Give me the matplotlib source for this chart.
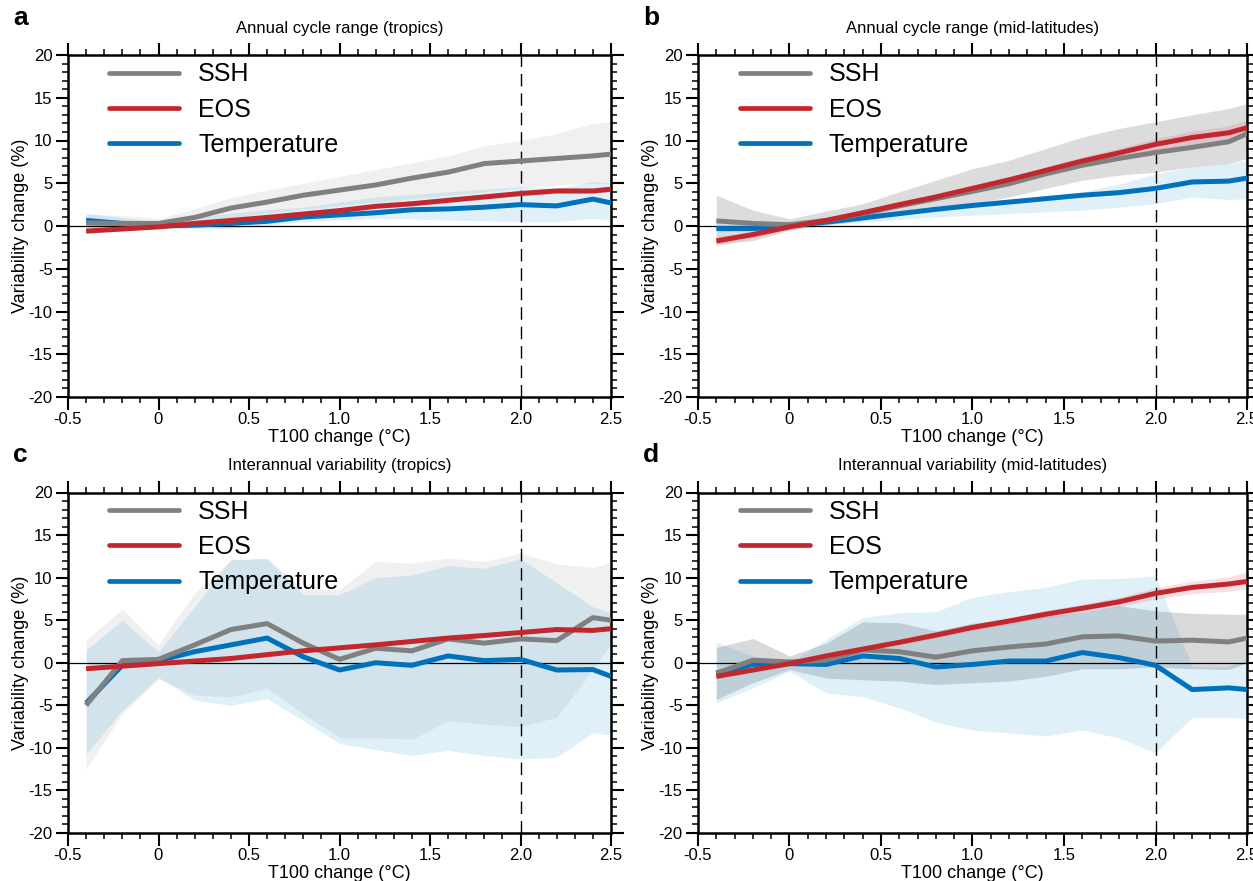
import numpy as np
import matplotlib
matplotlib.use("Agg")
import matplotlib.pyplot as plt
from matplotlib.ticker import MultipleLocator

plt.rcParams['font.family'] = ['Liberation Sans', 'DejaVu Sans']
plt.rcParams['axes.unicode_minus'] = False

# x positions (T100 change, degC)
x = [-0.4, -0.2, 0.0, 0.2, 0.4, 0.6, 0.8, 1.0, 1.2, 1.4, 1.6, 1.8, 2.0, 2.2, 2.4, 2.5]

# ---- Panel a: Annual cycle range (tropics)
a_ssh = [0.35, 0.3, 0.3, 1.0, 2.1, 2.8, 3.6, 4.2, 4.8, 5.6, 6.3, 7.3, 7.6, 7.9, 8.2, 8.4]
a_ssh_lo = [-0.5, -0.4, -0.3, 0.4, 1.0, 1.5, 2.0, 2.4, 2.8, 3.2, 3.6, 4.0, 4.5, 4.8, 5.0, 5.0]
a_ssh_hi = [1.4, 1.2, 0.9, 2.0, 3.3, 4.2, 5.0, 5.8, 6.6, 7.4, 8.2, 9.4, 10.0, 10.8, 12.0, 12.2]
a_eos = [-0.6, -0.35, -0.1, 0.3, 0.65, 1.0, 1.4, 1.8, 2.3, 2.6, 3.0, 3.4, 3.8, 4.1, 4.1, 4.3]
a_eos_lo = [-0.8, -0.55, -0.3, 0.1, 0.45, 0.8, 1.2, 1.6, 2.05, 2.35, 2.7, 3.1, 3.5, 3.8, 3.8, 4.0]
a_eos_hi = [-0.4, -0.15, 0.1, 0.5, 0.85, 1.2, 1.6, 2.0, 2.55, 2.85, 3.3, 3.7, 4.1, 4.4, 4.4, 4.6]
a_tmp = [0.65, 0.3, 0.0, 0.1, 0.3, 0.55, 1.05, 1.3, 1.55, 1.9, 2.0, 2.2, 2.5, 2.35, 3.15, 2.7]
a_tmp_lo = [-0.7, -0.5, -0.3, -0.3, -0.3, 0.1, 0.5, 0.7, 0.9, 0.8, 0.7, 0.6, 0.5, 0.5, 0.9, 0.7]
a_tmp_hi = [1.45, 1.0, 0.5, 1.0, 1.5, 1.9, 2.2, 2.8, 3.4, 3.7, 4.0, 4.3, 4.6, 4.4, 5.2, 5.0]

# ---- Panel b: Annual cycle range (mid-latitudes)
b_ssh = [0.6, 0.3, 0.15, 0.65, 1.45, 2.35, 3.2, 4.05, 4.95, 6.1, 7.1, 7.9, 8.6, 9.2, 9.85, 10.8]
b_ssh_lo = [-2.1, -1.7, -0.5, 0.1, 0.65, 1.25, 1.85, 2.6, 3.4, 4.4, 5.35, 5.95, 6.3, 6.9, 7.3, 7.9]
b_ssh_hi = [3.6, 1.85, 0.85, 1.75, 2.6, 4.0, 5.35, 6.7, 7.7, 9.05, 10.4, 11.4, 12.2, 13.0, 13.75, 14.3]
b_eos = [-1.75, -1.0, -0.1, 0.65, 1.55, 2.5, 3.4, 4.4, 5.4, 6.5, 7.6, 8.55, 9.55, 10.35, 10.9, 11.5]
b_eos_lo = [-2.3, -1.4, -0.4, 0.4, 1.3, 2.2, 3.1, 4.1, 5.0, 6.1, 7.1, 8.0, 8.9, 9.6, 10.1, 10.6]
b_eos_hi = [-1.2, -0.6, 0.2, 0.9, 1.8, 2.8, 3.7, 4.7, 5.8, 6.9, 8.1, 9.1, 10.2, 11.1, 11.7, 12.4]
b_tmp = [-0.3, -0.3, 0.0, 0.45, 0.95, 1.45, 1.95, 2.4, 2.8, 3.2, 3.6, 3.9, 4.4, 5.15, 5.25, 5.6]
b_tmp_lo = [-0.7, -0.5, -0.1, 0.2, 0.45, 0.75, 1.05, 1.25, 1.45, 1.65, 1.85, 2.2, 2.6, 3.4, 3.1, 3.2]
b_tmp_hi = [0.1, 0.1, 0.1, 0.7, 1.25, 1.7, 2.2, 2.6, 3.0, 3.5, 4.0, 4.9, 6.1, 6.9, 7.3, 7.7]

# ---- Panel c: Interannual variability (tropics)
c_ssh = [-5.0, 0.25, 0.4, 2.1, 3.9, 4.6, 2.3, 0.4, 1.7, 1.4, 2.8, 2.3, 2.8, 2.6, 5.3, 5.0]
c_ssh_lo = [-12.5, -6.0, -1.9, -3.8, -4.0, -3.0, -6.0, -8.8, -8.8, -9.0, -6.8, -7.2, -7.5, -6.4, -0.8, 2.3]
c_ssh_hi = [2.7, 6.3, 2.1, 8.2, 12.1, 12.3, 8.6, 8.6, 11.9, 11.7, 12.3, 11.9, 12.9, 11.6, 11.2, 11.8]
c_eos = [-0.7, -0.4, -0.1, 0.2, 0.5, 0.95, 1.4, 1.75, 2.1, 2.5, 2.9, 3.2, 3.55, 3.9, 3.8, 4.0]
c_eos_lo = [-0.9, -0.6, -0.3, 0.0, 0.3, 0.75, 1.2, 1.55, 1.9, 2.3, 2.7, 3.0, 3.35, 3.7, 3.6, 3.8]
c_eos_hi = [-0.5, -0.2, 0.1, 0.4, 0.7, 1.15, 1.6, 1.95, 2.3, 2.7, 3.1, 3.4, 3.75, 4.1, 4.0, 4.2]
c_tmp = [-4.75, -0.3, 0.25, 1.3, 2.1, 2.9, 0.7, -0.85, 0.0, -0.3, 0.8, 0.25, 0.4, -0.85, -0.8, -1.6]
c_tmp_lo = [-10.7, -5.6, -1.7, -4.4, -5.0, -4.2, -6.8, -9.5, -10.2, -10.9, -10.3, -10.9, -11.3, -11.1, -8.2, -8.5]
c_tmp_hi = [1.5, 5.0, 1.3, 6.6, 12.1, 12.2, 8.0, 8.0, 10.0, 10.3, 11.4, 11.1, 12.2, 9.4, 6.6, 5.8]

# ---- Panel d: Interannual variability (mid-latitudes)
d_ssh = [-1.25, 0.3, 0.1, 0.3, 1.5, 1.3, 0.65, 1.4, 1.85, 2.2, 3.05, 3.15, 2.55, 2.65, 2.45, 2.9]
d_ssh_lo = [-4.3, -2.35, -0.8, -1.8, -2.0, -2.15, -2.55, -2.35, -2.15, -1.6, -0.7, -0.7, -0.5, -0.7, -0.8, 0.0]
d_ssh_hi = [1.8, 2.85, 0.8, 2.3, 4.8, 4.7, 3.75, 4.65, 5.1, 5.5, 5.9, 6.7, 6.1, 5.8, 5.7, 5.7]
d_eos = [-1.6, -0.85, -0.1, 0.8, 1.6, 2.4, 3.25, 4.15, 4.9, 5.7, 6.4, 7.15, 8.15, 8.85, 9.25, 9.55]
d_eos_lo = [-1.9, -1.15, -0.4, 0.5, 1.3, 2.1, 2.9, 3.75, 4.5, 5.25, 5.9, 6.6, 7.5, 8.1, 8.4, 8.7]
d_eos_hi = [-1.3, -0.55, 0.2, 1.1, 1.9, 2.7, 3.6, 4.55, 5.3, 6.15, 6.9, 7.7, 8.8, 9.6, 10.1, 10.7]
d_tmp = [-1.2, -0.2, -0.1, -0.2, 0.8, 0.5, -0.5, -0.2, 0.2, 0.2, 1.2, 0.6, -0.3, -3.15, -2.95, -3.15]
d_tmp_lo = [-4.7, -2.95, -1.0, -3.55, -4.0, -5.3, -7.0, -7.9, -8.25, -8.6, -7.9, -8.85, -10.6, -6.4, -6.4, -6.6]
d_tmp_hi = [2.4, 0.8, 0.0, 2.75, 5.3, 5.9, 6.0, 7.7, 8.35, 8.85, 9.85, 9.9, 10.2, -0.4, -0.4, 0.4]

titles = ["Annual cycle range (tropics)", "Annual cycle range (mid-latitudes)",
          "Interannual variability (tropics)", "Interannual variability (mid-latitudes)"]
letters = ["a", "b", "c", "d"]
series_labels = ["SSH", "EOS", "Temperature"]
xticks = [-0.5, 0, 0.5, 1.0, 1.5, 2.0, 2.5]
xticklabels = ["-0.5", "0", "0.5", "1.0", "1.5", "2.0", "2.5"]
yticks = [-20, -15, -10, -5, 0, 5, 10, 15, 20]

panels = [
    (a_ssh, a_ssh_lo, a_ssh_hi, a_eos, a_eos_lo, a_eos_hi, a_tmp, a_tmp_lo, a_tmp_hi),
    (b_ssh, b_ssh_lo, b_ssh_hi, b_eos, b_eos_lo, b_eos_hi, b_tmp, b_tmp_lo, b_tmp_hi),
    (c_ssh, c_ssh_lo, c_ssh_hi, c_eos, c_eos_lo, c_eos_hi, c_tmp, c_tmp_lo, c_tmp_hi),
    (d_ssh, d_ssh_lo, d_ssh_hi, d_eos, d_eos_lo, d_eos_hi, d_tmp, d_tmp_lo, d_tmp_hi),
]

c_grey = "#808080"
c_red = "#c1272d"
c_blue = "#0071bc"
grey_band = ["#f0f0f0", "#dcdcdc", "#f0f0f0", "#d9d9d9"]

W, H = 1253, 881
fig = plt.figure(figsize=(W / 100, H / 100), dpi=100)
pos = [
    (68, 55, 611, 397),
    (698, 55, 1247, 397),
    (68, 492.5, 611, 833),
    (698, 492.5, 1247, 833),
]

for i, (p, data) in enumerate(zip(pos, panels)):
    l, t, r, b = p
    ax = fig.add_axes([l / W, 1 - b / H, (r - l) / W, (b - t) / H])
    ssh, ssh_lo, ssh_hi, eos, eos_lo, eos_hi, tmp, tmp_lo, tmp_hi = data
    ax.fill_between(x, ssh_lo, ssh_hi, color=grey_band[i], lw=0, zorder=1)
    ax.fill_between(x, tmp_lo, tmp_hi, color="#0088cc", alpha=0.12, lw=0, zorder=2)
    ax.fill_between(x, eos_lo, eos_hi, color="#e8506a", alpha=0.18, lw=0, zorder=2)
    ax.axhline(0, color="black", lw=0.9, zorder=3)
    ax.axvline(2.0, color="black", lw=1.0, dashes=(9, 5), zorder=3)
    ax.plot(x, ssh, color=c_grey, lw=3.6, zorder=5, label=series_labels[0], solid_capstyle='butt')
    ax.plot(x, eos, color=c_red, lw=3.6, zorder=6, label=series_labels[1], solid_capstyle='butt')
    ax.plot(x, tmp, color=c_blue, lw=3.6, zorder=4, label=series_labels[2], solid_capstyle='butt')
    handles, labs = ax.get_legend_handles_labels()
    leg = ax.legend(handles, labs, loc="upper left", frameon=False, fontsize=18,
                    handlelength=2.8, handletextpad=0.75, labelspacing=0.45,
                    bbox_to_anchor=(0.058, 1.008), borderaxespad=0)
    for h in leg.get_lines():
        h.set_linewidth(3.4)
        h.set_solid_capstyle('round')
    ax.set_xlim(-0.5, 2.5)
    ax.set_ylim(-20, 20)
    ax.set_xticks(xticks)
    ax.set_xticklabels(xticklabels)
    ax.set_yticks(yticks)
    ax.xaxis.set_minor_locator(MultipleLocator(0.1))
    ax.yaxis.set_minor_locator(MultipleLocator(1))
    ax.tick_params(which="both", direction="out", top=True, right=True,
                   labeltop=False, labelright=False, labelsize=12, pad=2)
    ax.tick_params(which="major", length=9, width=1.5)
    ax.tick_params(which="minor", length=4.5, width=1.1)
    for s in ax.spines.values():
        s.set_linewidth(1.8)
    ax.set_xlabel("T100 change (°C)", fontsize=13, labelpad=1)
    ax.set_ylabel("Variability change (%)", fontsize=13, labelpad=0)
    ax.set_title(titles[i], fontsize=12, pad=16)
    fig.text((l - 55) / W, 1 - (t - 37) / H, letters[i], fontsize=19, fontweight="bold",
             ha="left", va="center")

fig.savefig("out.png", dpi=100)
